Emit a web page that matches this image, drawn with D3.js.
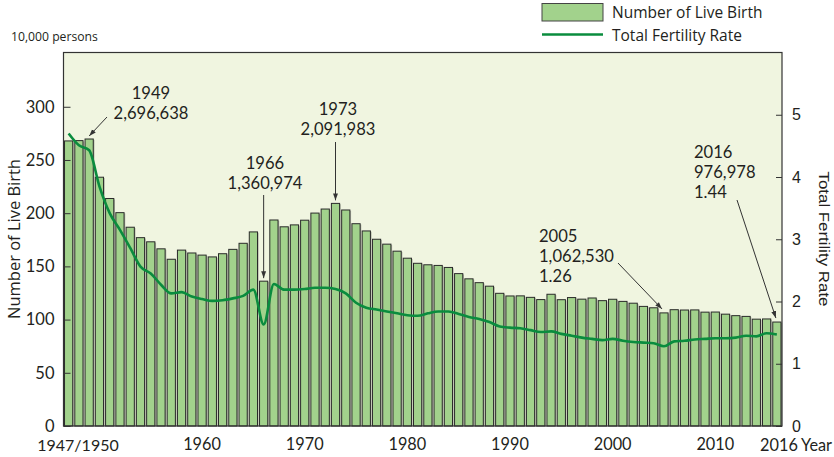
<!DOCTYPE html>
<html>
<head>
<meta charset="utf-8">
<script src="https://cdn.jsdelivr.net/npm/d3@7"></script>
<style>
  html, body { margin: 0; padding: 0; background: #ffffff; }
  svg { display: block; font-family: "Open Sans", "Noto Sans", sans-serif; }
</style>
</head>
<body>
<svg id="chart" width="834" height="457"></svg>
<script>
// ---------------- DATA ----------------
const years = d3.range(1947, 2017);
// Number of live births, in 10,000 persons
const births = [
  267.9, 268.2, 269.7, 233.8, 213.8, 200.5, 186.8, 177.0, 173.1, 166.5,
  156.7, 165.3, 162.6, 160.6, 158.9, 161.9, 166.0, 171.7, 182.4, 136.1,
  193.6, 187.2, 189.0, 193.4, 200.1, 203.9, 209.2, 203.0, 190.1, 183.3,
  175.5, 170.9, 164.3, 157.7, 152.9, 151.5, 150.9, 149.0, 143.2, 138.3,
  134.7, 131.4, 124.7, 122.2, 122.3, 120.9, 118.8, 123.8, 118.7, 120.7,
  119.2, 120.3, 117.8, 119.1, 117.1, 115.4, 112.4, 111.1, 106.3, 109.3,
  109.0, 109.1, 107.0, 107.1, 105.1, 103.7, 103.0, 100.4, 100.6, 97.7
];
// Total fertility rate (as drawn)
const tfr = [
  4.70, 4.51, 4.43, 3.85, 3.42, 3.15, 2.86, 2.56, 2.45, 2.27,
  2.13, 2.15, 2.08, 2.04, 2.01, 2.02, 2.05, 2.09, 2.19, 1.63,
  2.28, 2.19, 2.19, 2.20, 2.22, 2.22, 2.20, 2.13, 1.98, 1.90,
  1.87, 1.84, 1.81, 1.78, 1.77, 1.81, 1.84, 1.84, 1.80, 1.75,
  1.72, 1.67, 1.60, 1.58, 1.57, 1.54, 1.51, 1.52, 1.48, 1.45,
  1.42, 1.40, 1.38, 1.40, 1.37, 1.35, 1.34, 1.33, 1.28, 1.36,
  1.37, 1.39, 1.40, 1.41, 1.41, 1.42, 1.45, 1.44, 1.49, 1.47
];
const leftTicks = [0, 50, 100, 150, 200, 250, 300];
const rightTicks = [0, 1, 2, 3, 4, 5];
const xTickYears = [1960, 1970, 1980, 1990, 2000, 2010];
const firstTickLabel = "1947/1950";
const lastTickLabel = "2016";
const xUnitLabel = "Year";
const leftUnit = "10,000 persons";
const leftTitle = "Number of Live Birth";
const rightTitle = "Total Fertility Rate";
const legendLabels = ["Number of Live Birth", "Total Fertility Rate"];
const noteYears = [1949, 1966, 1973, 2005, 2016];
const noteLines = [
  ["1949", "2,696,638"],
  ["1966", "1,360,974"],
  ["1973", "2,091,983"],
  ["2005", "1,062,530", "1.26"],
  ["2016", "976,978", "1.44"]
];

// ---------------- LAYOUT ----------------
const plot = { left: 63.5, right: 782, top: 52.5, bottom: 426 };
const barFill = "#a2d28c";
const barStroke = "#2a2a2a";
const bgFill = "#f0f5e0";
const lineColor = "#0a8c3e";
const textColor = "#231f20";
const sansArial = "'Liberation Sans', Arial, sans-serif";
const humanist = "Lato, 'Open Sans', sans-serif";

const svg = d3.select("#chart");

const x = d3.scaleBand().domain(years).range([plot.left, plot.right]).paddingInner(0.2).paddingOuter(0.1);
const yL = d3.scaleLinear().domain([0, 351]).range([plot.bottom, plot.top]);
const yR = d3.scaleLinear().domain([0, 6]).range([plot.bottom, plot.top]);

// plot background
svg.append("rect")
  .attr("x", plot.left).attr("y", plot.top)
  .attr("width", plot.right - plot.left).attr("height", plot.bottom - plot.top)
  .attr("fill", bgFill);

// bars: soft shadow then bar
const data = years.map((yr, i) => ({ yr, b: births[i], t: tfr[i] }));
svg.append("g").selectAll("rect").data(data).join("rect")
  .attr("x", d => x(d.yr) + 1.2)
  .attr("y", d => yL(d.b) + 0.8)
  .attr("width", x.bandwidth())
  .attr("height", d => yL(0) - yL(d.b) - 0.8)
  .attr("fill", "#8a8f80").attr("opacity", 0.6);
svg.append("g").selectAll("rect").data(data).join("rect")
  .attr("x", d => x(d.yr))
  .attr("y", d => yL(d.b))
  .attr("width", x.bandwidth())
  .attr("height", d => yL(0) - yL(d.b))
  .attr("fill", barFill)
  .attr("stroke", barStroke)
  .attr("stroke-width", 1);

// TFR line
const line = d3.line()
  .x(d => x(d.yr) + x.bandwidth() / 2)
  .y(d => yR(d.t))
  .curve(d3.curveMonotoneX);
svg.append("path").datum(data)
  .attr("d", line)
  .attr("fill", "none")
  .attr("stroke", lineColor)
  .attr("stroke-width", 2.6)
  .attr("stroke-linejoin", "round");

// frame
svg.append("rect")
  .attr("x", plot.left).attr("y", plot.top)
  .attr("width", plot.right - plot.left).attr("height", plot.bottom - plot.top)
  .attr("fill", "none").attr("stroke", "#333").attr("stroke-width", 1.2);

// left axis (ticks inward)
const axL = d3.axisLeft(yL).tickValues(leftTicks).tickSize(-7).tickPadding(9).tickFormat(d3.format("d"));
const gL = svg.append("g").attr("transform", `translate(${plot.left},0)`).call(axL);
gL.select(".domain").remove();
gL.selectAll("line").attr("stroke", "#333");
gL.selectAll("text").attr("font-size", 16.5).attr("fill", textColor).attr("font-family", humanist);

// right axis (ticks inward)
const axR = d3.axisRight(yR).tickValues(rightTicks).tickSize(-6).tickPadding(10).tickFormat(d3.format("d"));
const gR = svg.append("g").attr("transform", `translate(${plot.right},0)`).call(axR);
gR.select(".domain").remove();
gR.selectAll("line").attr("stroke", "#333");
gR.selectAll("text").attr("font-size", 16).attr("fill", textColor).attr("font-family", sansArial);

// bottom axis labels
const axB = d3.axisBottom(x).tickValues(xTickYears).tickSize(0).tickPadding(12);
const gB = svg.append("g").attr("transform", `translate(0,${plot.bottom})`).call(axB);
gB.select(".domain").remove();
gB.selectAll("text").attr("font-size", 16.3).attr("fill", textColor).attr("font-family", humanist);

const xLabelY = 451;
svg.append("text").attr("x", 78).attr("y", xLabelY).attr("text-anchor", "middle")
  .attr("font-family", humanist).attr("font-size", 16).attr("fill", textColor).text(firstTickLabel);
svg.append("text").attr("x", 779).attr("y", xLabelY).attr("text-anchor", "middle")
  .attr("font-family", humanist).attr("font-size", 16.3).attr("fill", textColor).text(lastTickLabel);
svg.append("text").attr("x", 801).attr("y", xLabelY)
  .attr("font-family", humanist).attr("font-size", 16.3).attr("fill", textColor)
  .attr("textLength", 31).attr("lengthAdjust", "spacingAndGlyphs").text(xUnitLabel);

// unit and axis titles
svg.append("text").attr("x", 11).attr("y", 41).attr("font-size", 12.2).attr("fill", textColor).text(leftUnit);
svg.append("text").attr("transform", "translate(19.5,239) rotate(-90)").attr("text-anchor", "middle")
  .attr("font-size", 16.5).attr("fill", textColor)
  .attr("textLength", 160).attr("lengthAdjust", "spacingAndGlyphs").text(leftTitle);
svg.append("text").attr("transform", "translate(819,239) rotate(90)").attr("text-anchor", "middle")
  .attr("font-size", 15.5).attr("fill", textColor).attr("font-family", sansArial)
  .attr("textLength", 135).attr("lengthAdjust", "spacingAndGlyphs").text(rightTitle);

// legend
svg.append("rect").attr("x", 542).attr("y", 3.5).attr("width", 61).attr("height", 17.5)
  .attr("fill", barFill).attr("stroke", "#444").attr("stroke-width", 1);
svg.append("line").attr("x1", 542).attr("x2", 603).attr("y1", 34.5).attr("y2", 34.5)
  .attr("stroke", lineColor).attr("stroke-width", 2.6);
svg.append("text").attr("x", 612).attr("y", 18).attr("font-size", 15.5).attr("fill", textColor).text(legendLabels[0]);
svg.append("text").attr("x", 612).attr("y", 40.5).attr("font-size", 15.5).attr("fill", textColor).text(legendLabels[1]);

// annotations
const defs = svg.append("defs");
defs.append("marker").attr("id", "arr").attr("viewBox", "0 0 10 10")
  .attr("refX", 10).attr("refY", 5).attr("markerWidth", 7).attr("markerHeight", 7)
  .attr("markerUnits", "userSpaceOnUse").attr("orient", "auto")
  .append("path").attr("d", "M0,1.5 L10,5 L0,8.5 Z").attr("fill", "#333");

const cx = yr => x(yr) + x.bandwidth() / 2;
const bVal = yr => births[years.indexOf(yr)];
// text anchor positions and arrow start, per note (layout)
const noteLayout = [
  { tx: 151, ty: 99, anchor: "middle", ax: 107, ay: 117, dx: 0, dy: -3 },
  { tx: 265, ty: 169, anchor: "middle", ax: cx(1966), ay: 195, dx: 0, dy: -3 },
  { tx: 338, ty: 115, anchor: "middle", ax: cx(1973), ay: 142, dx: 0, dy: -3 },
  { tx: 539, ty: 242, anchor: "start", ax: 618, ay: 263, dx: -2, dy: -4 },
  { tx: 694, ty: 158, anchor: "start", ax: 737, ay: 200, dx: -1, dy: -4 }
];
noteYears.forEach((yr, i) => {
  const L = noteLayout[i];
  noteLines[i].forEach((s, j) => {
    svg.append("text").attr("x", L.tx).attr("y", L.ty + j * 20).attr("text-anchor", L.anchor)
      .attr("font-family", humanist)
      .attr("font-size", 16.6).attr("fill", textColor).text(s);
  });
  svg.append("line")
    .attr("x1", L.ax).attr("y1", L.ay)
    .attr("x2", cx(yr) + L.dx).attr("y2", yL(bVal(yr)) + L.dy)
    .attr("stroke", "#333").attr("stroke-width", 1)
    .attr("marker-end", "url(#arr)");
});
</script>
</body>
</html>
